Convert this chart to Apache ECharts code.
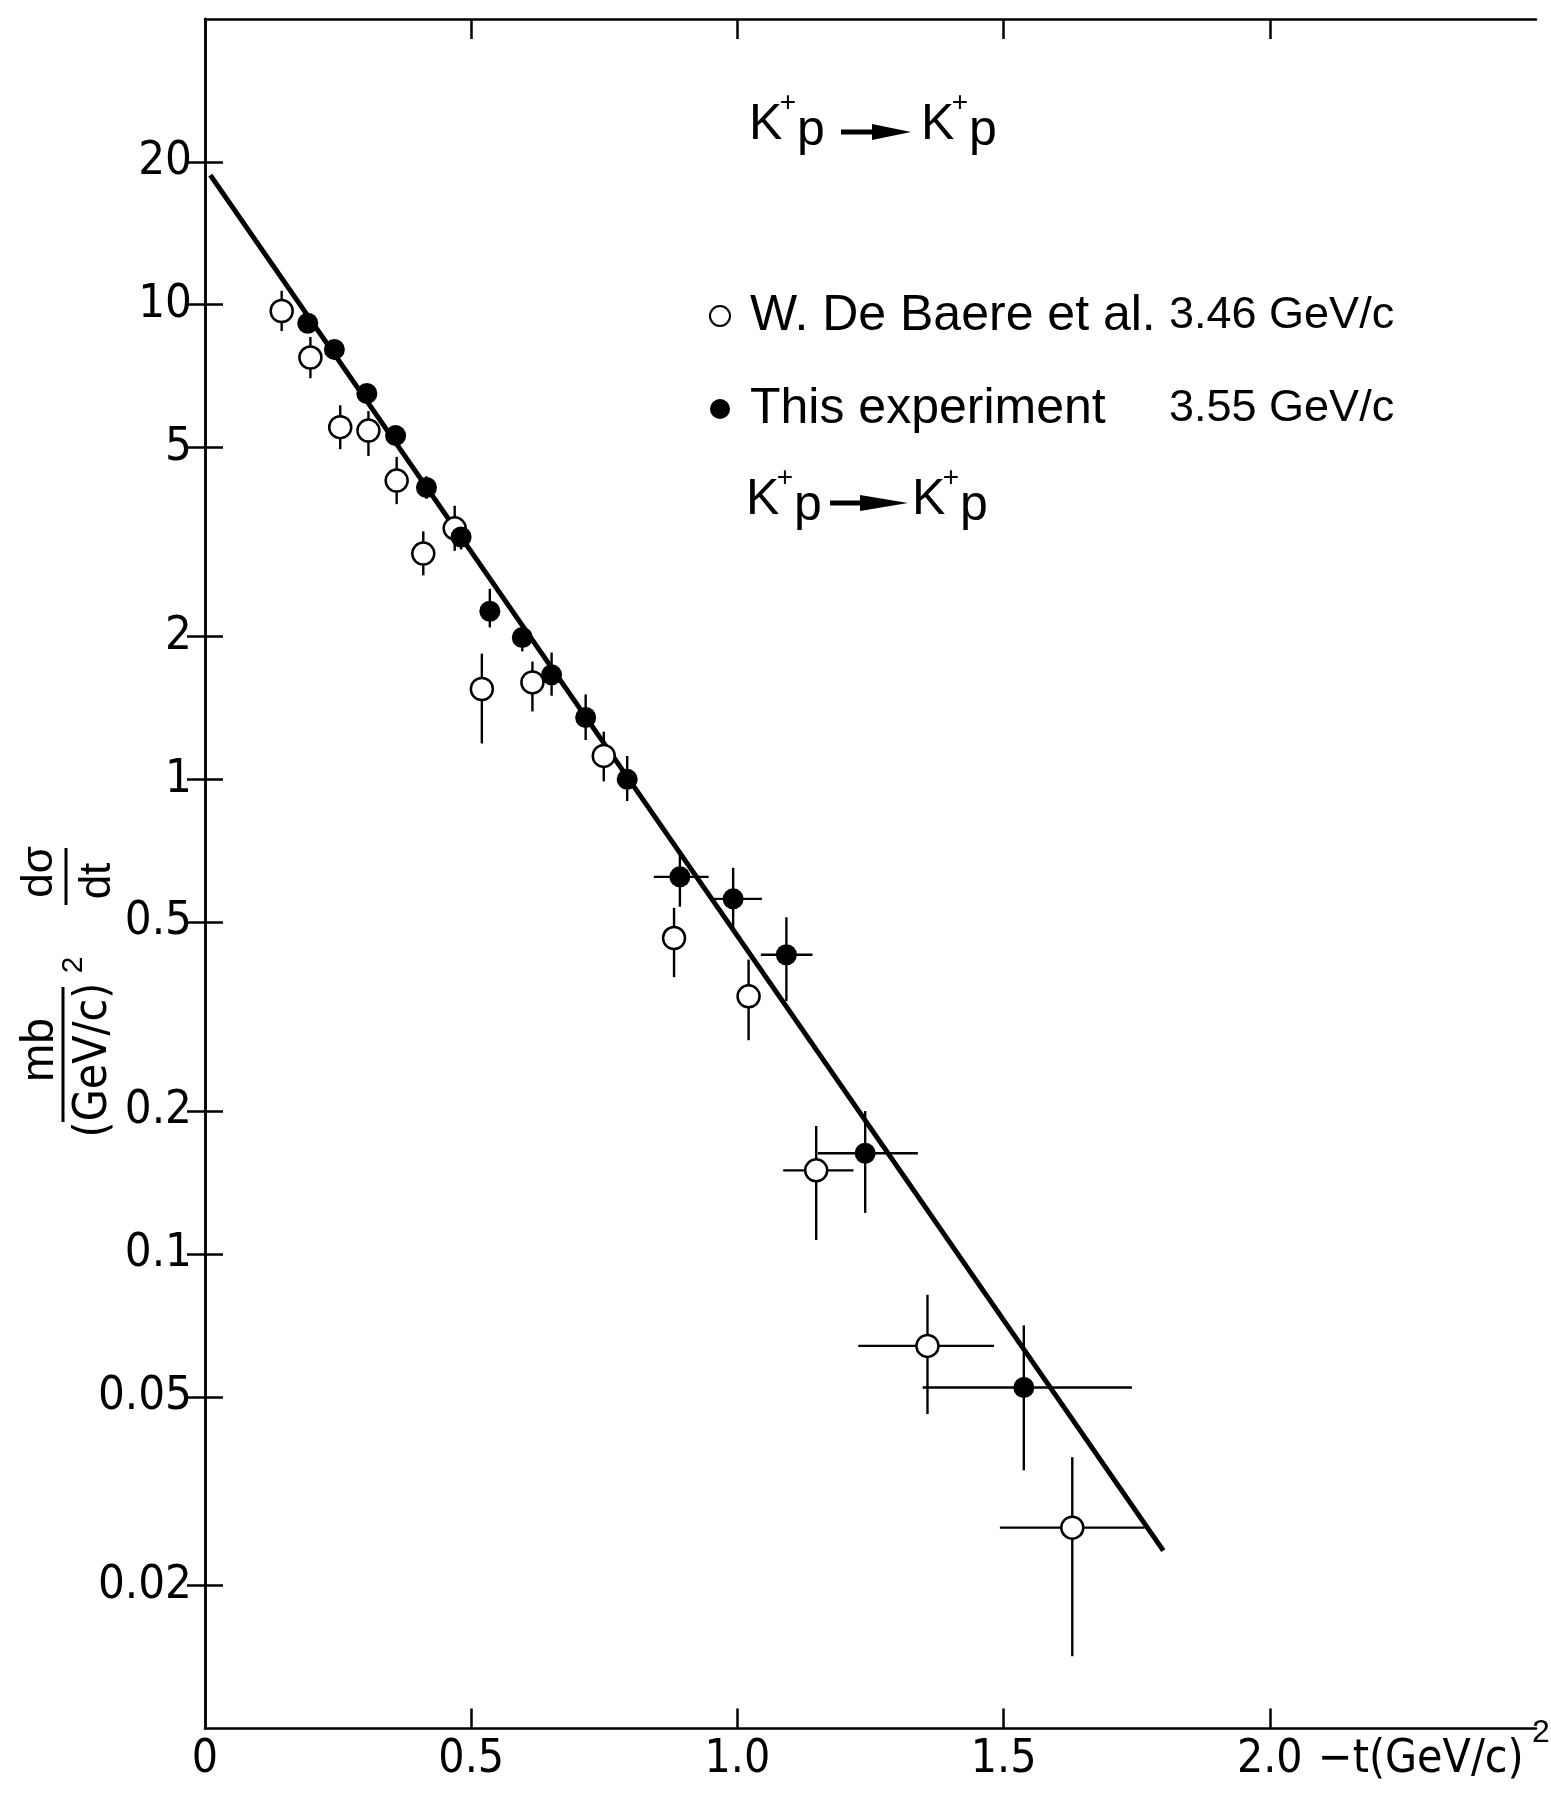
<!DOCTYPE html>
<html>
<head>
<meta charset="utf-8">
<script src="https://cdn.jsdelivr.net/npm/echarts@6/dist/echarts.min.js"></script>
<style>
html,body{margin:0;padding:0;background:#fff;}
#chart{width:1551px;height:1797px;}
</style>
</head>
<body>
<div id="chart"></div>
<script>
// ---- data (t in (GeV/c)^2, dsigma/dt in mb/(GeV/c)^2) ----
const legendNames = ['W. De Baere et al.', 'This experiment'];
const legendEnergies = ['3.46 GeV/c', '3.55 GeV/c'];

// W. De Baere et al. 3.46 GeV/c (open circles)
const openT      = [0.144, 0.198, 0.254, 0.307, 0.360, 0.410, 0.469, 0.520, 0.615, 0.749, 0.881, 1.021, 1.148, 1.357, 1.629];
const openSigma  = [9.70, 7.74, 5.52, 5.43, 4.26, 2.99, 3.38, 1.55, 1.60, 1.12, 0.463, 0.349, 0.150, 0.064, 0.0265];
const openSigLo  = [8.80, 7.00, 4.96, 4.80, 3.80, 2.69, 3.03, 1.19, 1.39, 0.99, 0.383, 0.282, 0.107, 0.046, 0.0142];
const openSigHi  = [10.7, 8.55, 6.14, 5.97, 4.78, 3.33, 3.77, 1.84, 1.77, 1.26, 0.536, 0.417, 0.186, 0.082, 0.0373];
const openTLo    = [0.144, 0.198, 0.254, 0.307, 0.360, 0.410, 0.469, 0.520, 0.615, 0.749, 0.881, 1.021, 1.086, 1.227, 1.493];
const openTHi    = [0.144, 0.198, 0.254, 0.307, 0.360, 0.410, 0.469, 0.520, 0.615, 0.749, 0.881, 1.021, 1.218, 1.482, 1.765];

// This experiment 3.55 GeV/c (filled circles)
const fillT      = [0.193, 0.243, 0.304, 0.358, 0.416, 0.481, 0.535, 0.596, 0.651, 0.715, 0.793, 0.892, 0.992, 1.092, 1.240, 1.538];
const fillSigma  = [9.14, 8.05, 6.50, 5.30, 4.12, 3.24, 2.26, 1.99, 1.66, 1.35, 1.00, 0.623, 0.560, 0.427, 0.163, 0.0523];
const fillSigLo  = [8.75, 7.70, 6.20, 5.05, 3.90, 3.05, 2.09, 1.86, 1.50, 1.21, 0.90, 0.539, 0.486, 0.341, 0.122, 0.035];
const fillSigHi  = [9.55, 8.40, 6.80, 5.55, 4.35, 3.45, 2.52, 2.13, 1.85, 1.51, 1.12, 0.692, 0.651, 0.512, 0.200, 0.0707];
const fillTLo    = [0.193, 0.243, 0.304, 0.358, 0.416, 0.481, 0.535, 0.596, 0.651, 0.715, 0.793, 0.843, 0.956, 1.044, 1.151, 1.348];
const fillTHi    = [0.193, 0.243, 0.304, 0.358, 0.416, 0.481, 0.535, 0.596, 0.651, 0.715, 0.793, 0.946, 1.046, 1.141, 1.339, 1.741];

// straight-line (exponential) fit drawn in the figure
const fitT     = [0.01, 1.80];
const fitSigma = [18.75, 0.0237];

// axes
const yTickValues = [0.02, 0.05, 0.1, 0.2, 0.5, 1, 2, 5, 10, 20];
const yTickLabels = ['0.02', '0.05', '0.1', '0.2', '0.5', '1', '2', '5', '10', '20'];
const xTickValues = [0, 0.5, 1.0, 1.5, 2.0];
const xTickLabels = ['0', '0.5', '1.0', '1.5', '2.0'];
const xInnerTicks = [0.5, 1.0, 1.5, 2.0];

// ---- build ----
const NARROW = "'Liberation Sans Narrow','DejaVu Sans Condensed','Liberation Sans',sans-serif";
const SANS = "'Liberation Sans',Arial,sans-serif";

function zip(a, b) { return a.map((v, i) => [v, b[i]]); }
function errRows(t, s, tlo, thi, slo, shi) {
  return t.map((v, i) => [v, s[i], tlo[i], thi[i], slo[i], shi[i]]);
}
function yLabel(v) {
  const i = yTickValues.findIndex(t => Math.abs(Math.log10(t) - Math.log10(v)) < 1e-6);
  return i >= 0 ? yTickLabels[i] : '';
}
function xLabel(v) {
  const i = xTickValues.findIndex(t => Math.abs(t - v) < 1e-6);
  return i >= 0 ? xTickLabels[i] : '';
}
function renderErr(params, api) {
  const t = api.value(0), s = api.value(1);
  const c = api.coord([t, s]);
  const lo = api.coord([t, api.value(4)]);
  const hi = api.coord([t, api.value(5)]);
  const l = api.coord([api.value(2), s]);
  const r = api.coord([api.value(3), s]);
  const st = { stroke: '#000', lineWidth: 2.4 };
  const children = [
    { type: 'line', shape: { x1: c[0], y1: lo[1], x2: c[0], y2: hi[1] }, style: st }
  ];
  if (Math.abs(r[0] - l[0]) > 1) {
    children.push({ type: 'line', shape: { x1: l[0], y1: c[1], x2: r[0], y2: c[1] }, style: st });
  }
  return { type: 'group', children: children };
}

const chart = echarts.init(document.getElementById('chart'), null, { renderer: 'canvas' });

const axisLineStyle = { color: '#000', width: 2.5 };
const tickStyle = { color: '#000', width: 2.5 };

function kp(x, yMid) {
  return [
    { type: 'text', x: x, y: yMid, style: { text: 'K', fontSize: 50, fontFamily: SANS, fill: '#000', textAlign: 'left', textVerticalAlign: 'middle' } },
    { type: 'text', x: x + 39, y: yMid - 22, style: { text: '+', fontSize: 28, fontFamily: SANS, fill: '#000', textAlign: 'center', textVerticalAlign: 'middle' } },
    { type: 'text', x: x + 48, y: yMid + 6, style: { text: 'p', fontSize: 50, fontFamily: SANS, fill: '#000', textAlign: 'left', textVerticalAlign: 'middle' } }
  ];
}
function arrow(x1, x2, headStart, y, half) {
  return [
    { type: 'line', shape: { x1: x1, y1: y, x2: headStart + 2, y2: y }, style: { stroke: '#000', lineWidth: 5 } },
    { type: 'polygon', shape: { points: [[headStart, y - half], [x2, y], [headStart, y + half]] }, style: { fill: '#000' } }
  ];
}
function rot(text, cx, cy, size, fam) {
  return { type: 'text', x: cx, y: cy, rotation: Math.PI / 2,
    style: { text: text, fontSize: size, fontFamily: fam, fill: '#000', textAlign: 'center', textVerticalAlign: 'middle' } };
}

const graphics = []
  .concat(kp(749, 125), arrow(841, 911, 872, 132, 8), kp(921, 125))
  .concat(kp(746, 500), arrow(830, 908, 860, 503, 8), kp(912, 500))
  .concat([
    rot('dσ', 40, 872, 44, SANS),
    { type: 'line', shape: { x1: 66, y1: 848, x2: 66, y2: 905 }, style: { stroke: '#000', lineWidth: 3 } },
    rot('dt', 98, 881, 44, SANS),
    rot('mb', 40, 1050, 46, SANS),
    { type: 'line', shape: { x1: 63, y1: 987, x2: 63, y2: 1122 }, style: { stroke: '#000', lineWidth: 3 } },
    rot('(GeV/c)', 94, 1060, 46, NARROW),
    rot('2', 74, 965, 30, SANS),
    { type: 'text', x: 1318, y: 1760, style: { text: '−t(GeV/c)', fontSize: 46, fontFamily: NARROW, fill: '#000', textAlign: 'left', textVerticalAlign: 'middle' } },
    { type: 'text', x: 1541, y: 1733, style: { text: '2', fontSize: 32, fontFamily: SANS, fill: '#000', textAlign: 'center', textVerticalAlign: 'middle' } }
  ]);

const option = {
  animation: false,
  backgroundColor: '#fff',
  grid: { left: 205, top: 19, width: 1331, height: 1709.5, containLabel: false, outerBoundsMode: 'none' },
  legend: {
    orient: 'vertical', left: 704, top: 286, itemWidth: 50, itemHeight: 20, itemGap: 43,
    selectedMode: false,
    data: [{ name: legendNames[0], icon: 'circle' }, { name: legendNames[1], icon: 'circle' }],
    formatter: function (name) {
      const i = legendNames.indexOf(name);
      return '{a|' + name + '}{b|' + legendEnergies[i] + '}';
    },
    textStyle: {
      color: '#000',
      rich: {
        a: { width: 419, fontSize: 50, lineHeight: 50, fontFamily: SANS, color: '#000' },
        b: { fontSize: 45, lineHeight: 50, fontFamily: SANS, color: '#000' }
      }
    }
  },
  xAxis: [
    {
      type: 'value', min: 0, max: 2.5, position: 'bottom',
      axisLine: { show: true, onZero: false, lineStyle: axisLineStyle },
      axisTick: { show: true, inside: true, length: 20, customValues: xInnerTicks, lineStyle: tickStyle },
      axisLabel: { show: true, customValues: xTickValues, formatter: xLabel, fontSize: 46, fontFamily: NARROW, color: '#000', margin: 9 },
      splitLine: { show: false }
    },
    {
      type: 'value', min: 0, max: 2.5, position: 'top',
      axisLine: { show: true, onZero: false, lineStyle: axisLineStyle },
      axisTick: { show: true, inside: true, length: 20, customValues: xInnerTicks, lineStyle: tickStyle },
      axisLabel: { show: false },
      splitLine: { show: false }
    }
  ],
  yAxis: [
    {
      type: 'log', logBase: 10, min: 0.01, max: 40, position: 'left',
      axisLine: { show: true, lineStyle: axisLineStyle },
      axisTick: { show: true, inside: true, length: 18, customValues: yTickValues, lineStyle: tickStyle },
      axisLabel: { show: true, customValues: yTickValues, formatter: yLabel, fontSize: 47, fontFamily: NARROW, color: '#000', margin: 13 },
      splitLine: { show: false },
      minorTick: { show: false }
    },
    {
      type: 'log', logBase: 10, min: 0.01, max: 40, position: 'right',
      axisLine: { show: true, lineStyle: axisLineStyle },
      axisTick: { show: true, inside: true, length: 18, customValues: yTickValues, lineStyle: tickStyle },
      axisLabel: { show: false },
      splitLine: { show: false }
    }
  ],
  graphic: { elements: graphics },
  series: [
    {
      name: 'fit', type: 'line', xAxisIndex: 0, yAxisIndex: 0, z: 2,
      data: zip(fitT, fitSigma), showSymbol: false, symbol: 'none',
      lineStyle: { color: '#000', width: 5 }, silent: true
    },
    {
      name: 'errOpen', type: 'custom', xAxisIndex: 0, yAxisIndex: 0, z: 3,
      data: errRows(openT, openSigma, openTLo, openTHi, openSigLo, openSigHi),
      encode: { x: 0, y: 1 }, renderItem: renderErr, silent: true
    },
    {
      name: 'errFill', type: 'custom', xAxisIndex: 0, yAxisIndex: 0, z: 3,
      data: errRows(fillT, fillSigma, fillTLo, fillTHi, fillSigLo, fillSigHi),
      encode: { x: 0, y: 1 }, renderItem: renderErr, silent: true
    },
    {
      name: legendNames[0], type: 'scatter', xAxisIndex: 0, yAxisIndex: 0, z: 4,
      data: zip(openT, openSigma), symbol: 'circle', symbolSize: 22,
      itemStyle: { color: '#fff', borderColor: '#000', borderWidth: 2.5, opacity: 1 }
    },
    {
      name: legendNames[1], type: 'scatter', xAxisIndex: 0, yAxisIndex: 0, z: 5,
      data: zip(fillT, fillSigma), symbol: 'circle', symbolSize: 21,
      itemStyle: { color: '#000', borderColor: '#000', borderWidth: 0, opacity: 1 }
    }
  ]
};
chart.setOption(option);
</script>
</body>
</html>
